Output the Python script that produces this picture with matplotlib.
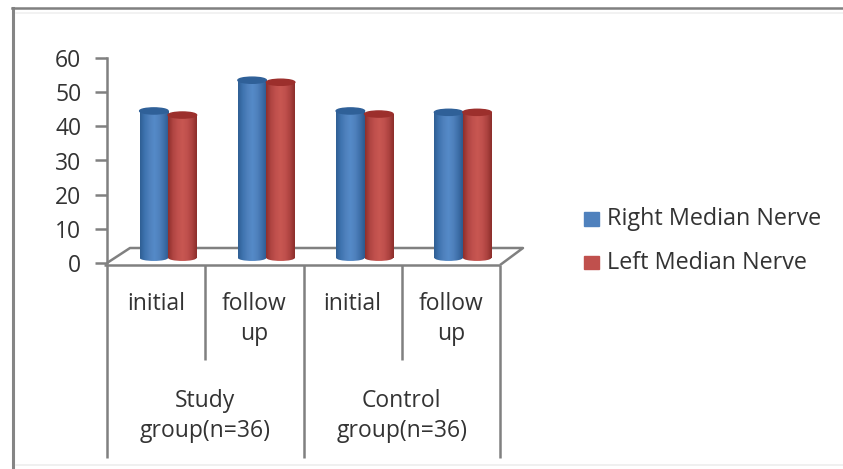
#import necessary libraries
import numpy as np
import matplotlib
matplotlib.use("Agg")
import matplotlib.pyplot as plt
from matplotlib.colors import LinearSegmentedColormap
from matplotlib.patches import Ellipse, Rectangle

plt.rcParams['font.family'] = ['Open Sans', 'DejaVu Sans']

#chart values
subgroups = ["initial", "follow\nup", "initial", "follow\nup"]
groups = ["Study\ngroup(n=36)", "Control\ngroup(n=36)"]
right_median = [43, 52, 43, 42.6]
left_median = [41.8, 51.4, 42.1, 42.6]
y_ticks = [0, 10, 20, 30, 40, 50, 60]

W, H = 843, 469
fs = 16.5
txt = "#333333"
fig = plt.figure(figsize=(W/100, H/100), dpi=100)
bg = fig.add_axes([0, 0, 1, 1])
bg.set_xlim(0, W)
bg.set_ylim(H, 0)
bg.axis("off")
#outer frame of the picture, only top and left are dark
bg.plot([13, 13], [469, 8], color="#858585", lw=2.2)
bg.plot([12, 843], [8, 8], color="#808080", lw=1.8)
bg.plot([16, 843], [13.5, 13.5], color="#f0f0f0", lw=1.2)
bg.plot([16, 843], [465.5, 465.5], color="#eeeeee", lw=1.2)

#main axes, placed on the pixel box of the axis lines
ax = fig.add_axes([107/W, 1-263/H, 393/W, 205/H])
ax.set_xlim(0, 4)
ax.set_ylim(0, 60)
ax.patch.set_alpha(0)
for s in ["top", "right", "bottom"]:
    ax.spines[s].set_visible(False)
ax.spines["left"].set_color("#808080")
ax.spines["left"].set_linewidth(1.8)
ax.set_yticks(y_ticks)
ax.set_xticks([])
ax.tick_params(axis="y", length=8.5, width=1.8, color="#808080", labelsize=fs, labelcolor=txt, pad=10)

line = dict(color="#808080", lw=1.8, clip_on=False, solid_capstyle="butt")
depth_x, lift = 23/98.25, 15/3.417
#floor of the 3d box
ax.plot([0, depth_x, 4+depth_x, 4], [0, lift, lift, -0.6], **line)
ax.plot([-0.03, 4], [-0.6, -0.6], **line)

#separators under the axis, these go out of the axes
for i in range(5):
    low = -57 if i % 2 == 0 else -28.5
    ax.plot([i, i], [-0.6, low], **line)
for i, s in enumerate(subgroups):
    ax.text(i+0.5, -8.6, s, ha="center", va="top", fontsize=fs, color=txt, linespacing=1.31)
for i, g in enumerate(groups):
    ax.text(2*i+1, -36.9, g, ha="center", va="top", fontsize=fs, color=txt, linespacing=1.31)

cmap_blue = LinearSegmentedColormap.from_list("b", ["#2f5f94", "#3f74b0", "#4f81bd", "#558ac8", "#4f81bd", "#3f70aa", "#2d5a8e"])
cmap_red = LinearSegmentedColormap.from_list("r", ["#8f2f2c", "#b04542", "#c0504d", "#c85752", "#c0504d", "#ad4340", "#8c2e2b"])

bar_w = 0.29
base = 1.5 #bars stand on the floor, a little above zero
shift = 0.122
ell_h = 1.8
grad = np.linspace(0, 1, 64).reshape(1, -1)


def cylinder(x, val, cmap, top_col, z):
    bars = ax.bar(x, val, bar_w, bottom=base, color="none", zorder=z)
    im = ax.imshow(grad, extent=(x-bar_w/2, x+bar_w/2, base, base+val), cmap=cmap, aspect="auto", zorder=z)
    im.set_clip_path(bars[0])
    #rounded foot with the same shading
    foot = Ellipse((x, base), bar_w, ell_h, fc="none", ec="none", zorder=z)
    ax.add_patch(foot)
    im2 = ax.imshow(grad, extent=(x-bar_w/2, x+bar_w/2, base-ell_h/2, base), cmap=cmap, aspect="auto", zorder=z)
    im2.set_clip_path(foot)
    ax.add_patch(Ellipse((x, base+val), bar_w, ell_h, color=top_col, zorder=z+0.1))


for i in range(4):
    cylinder(i+0.5+shift-bar_w/2, right_median[i], cmap_blue, "#2f6098", 3)
    cylinder(i+0.5+shift+bar_w/2, left_median[i], cmap_red, "#9c2f2c", 4)
ax.set_xlim(0, 4)
ax.set_ylim(0, 60)

#legend
bg.add_patch(Rectangle((584, 212), 14.5, 14, color="#4f81bd"))
bg.add_patch(Rectangle((584, 256), 14.5, 13.5, color="#c0504d"))
bg.text(607, 219, "Right Median Nerve", va="center", fontsize=fs+0.3, color=txt)
bg.text(607, 263, "Left Median Nerve", va="center", fontsize=fs+0.3, color=txt)

fig.savefig("out.png", dpi=100)
